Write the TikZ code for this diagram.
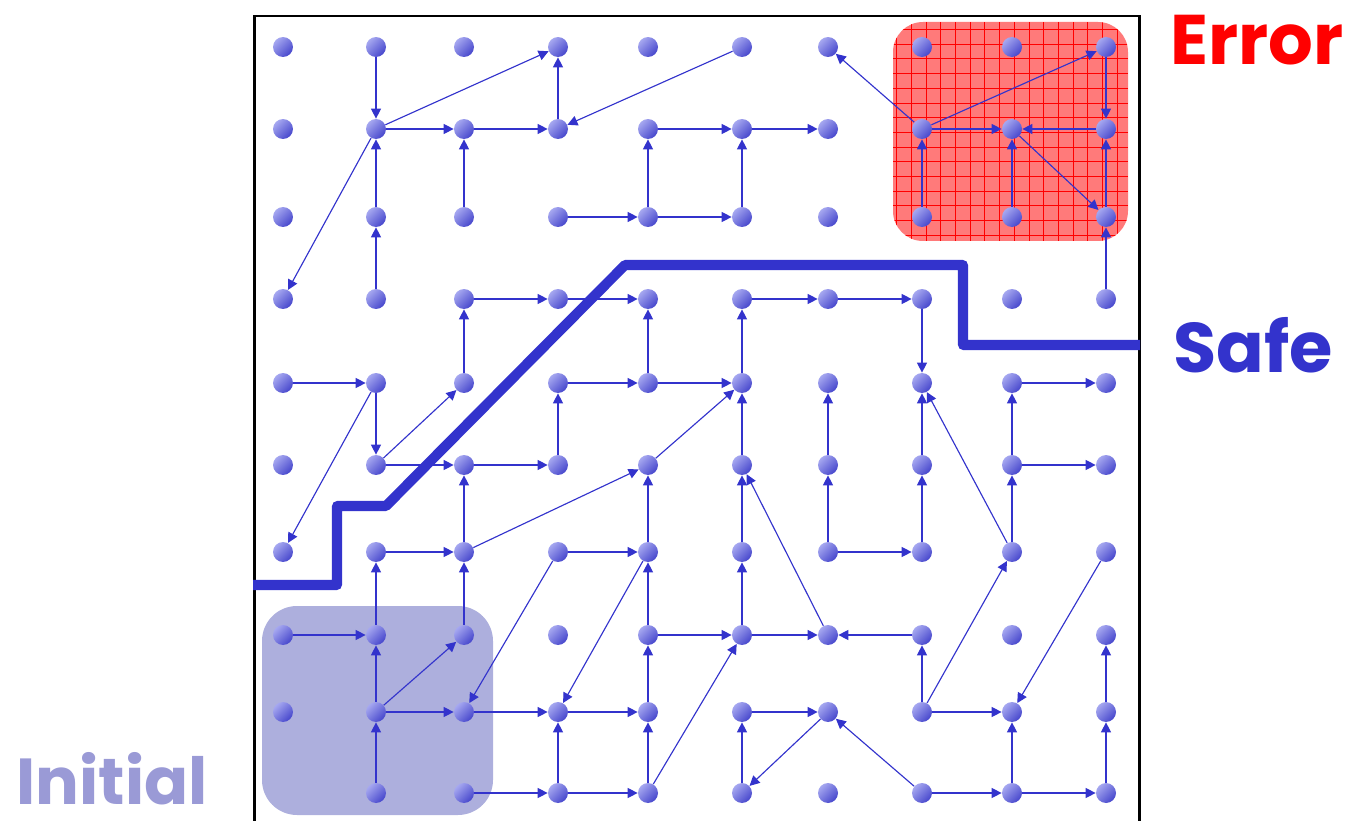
\documentclass[tikz,border=0pt]{standalone}
\usepackage{fontspec}
\newfontfamily\tagfont{Poppins}
\usetikzlibrary{arrows.meta}
\definecolor{cblue}{HTML}{3333CC}
\definecolor{cdotlight}{HTML}{A6A8F0}
\definecolor{cdotdark}{HTML}{4646CC}
\definecolor{cinit}{HTML}{ADAFDD}
\definecolor{cinittext}{HTML}{9A9AD6}
\definecolor{cerr}{HTML}{FF7A7A}
\definecolor{cerrtext}{HTML}{FF0000}
\tikzset{
  every picture/.style={x=0.02cm, y=-0.02cm},
  dot/.style={circle, minimum size=0.4cm, inner sep=0pt, top color=cdotlight, bottom color=cdotdark, shading angle=45},
  arrow/.style={-{Triangle[length=2mm, width=2mm]}, draw=cblue, line width=0.65pt},
  tag/.style={font=\tagfont\bfseries\fontsize{40}{48}\selectfont, inner sep=0pt},
  errzone/.style={fill=cerr, rounded corners=0.6cm, path picture={\draw[red, line width=0.35pt, step=0.294cm] (path picture bounding box.south west) grid (path picture bounding box.north east);}},
}

\begin{document}
\begin{tikzpicture}
  \useasboundingbox (0,0) rectangle (1347,821);
  % regions
  \fill[cinit, rounded corners=0.7cm] (262,606) rectangle (493,815);
  \path[errzone] (893,22) rectangle (1128,241);
  \draw[line width=1.7pt] (254.5,840) |- (1139,16) -- (1139,840);
  % boundary of the safe part
  \draw[cblue, line width=5.7pt, line join=round] (253,585) -- (337,585) -- (337,506) -- (386,506) -- (625,265) -- (963,265) -- (963,345) -- (1140,345);
  % states (no state in column 1, row 10)
  \foreach \c/\x in {1/283, 2/376, 3/464, 4/558, 5/648, 6/742, 7/828, 8/922, 9/1012, 10/1106}
    \foreach \r/\y in {1/47, 2/129, 3/217, 4/299, 5/383, 6/465, 7/552, 8/635, 9/712, 10/793} {
      \ifnum\c\r=110 \else \node[dot] (d\c-\r) at (\x,\y) {}; \fi
    }
  % transitions
  \foreach \a/\b in {2-1/2-2, 2-2/4-1, 2-2/3-2, 3-2/4-2, 4-2/4-1, 2-2/1-4, 2-3/2-2, 2-4/2-3, 3-3/3-2,
    6-1/4-2, 5-2/6-2, 6-2/7-2, 5-3/5-2, 6-3/6-2, 4-3/5-3, 5-3/6-3,
    8-2/7-1, 8-2/10-1, 8-2/9-2, 10-2/9-2, 10-1/10-2, 9-2/10-3, 8-3/8-2, 9-3/9-2, 10-3/10-2, 10-4/10-3}
    \draw[arrow] (d\a) -- (d\b);
  \foreach \a/\b in {3-4/4-4, 4-4/5-4, 6-4/7-4, 7-4/8-4, 3-5/3-4, 1-5/2-5, 2-5/2-6, 2-5/1-7, 2-6/3-5,
    2-6/3-6, 3-6/4-6, 4-6/4-5, 3-7/3-6, 2-7/3-7, 3-7/5-6, 4-5/5-5, 5-5/5-4, 5-5/6-5, 5-6/6-5,
    6-6/6-5, 6-5/6-4, 7-6/7-5, 7-7/7-6, 6-7/6-6, 7-8/6-6, 5-7/5-6, 4-7/5-7, 7-7/8-7,
    8-4/8-5, 8-6/8-5, 8-7/8-6, 9-7/8-5, 9-5/10-5, 9-6/9-5, 9-6/10-6, 9-7/9-6}
    \draw[arrow] (d\a) -- (d\b);
  \foreach \a/\b in {8-8/7-8, 8-9/8-8, 8-9/9-7, 8-9/9-9, 10-7/9-9, 8-10/7-9, 8-10/9-10, 9-10/10-10,
    9-10/9-9, 10-10/10-9, 10-9/10-8, 2-8/2-7, 3-8/3-7, 1-8/2-8, 2-9/2-8, 2-9/3-8, 2-9/3-9,
    2-10/2-9, 4-7/3-9, 3-9/4-9, 3-10/4-10, 4-10/4-9, 5-7/4-9, 5-8/5-7, 5-9/5-8, 5-8/6-8,
    6-8/6-7, 6-8/7-8, 5-10/6-8, 4-9/5-9, 4-10/5-10, 5-10/5-9, 6-9/7-9, 7-9/6-10, 6-10/6-9}
    \draw[arrow] (d\a) -- (d\b);
  % labels
  \node[tag, text=cerrtext] (error) at (1257,40) {Error};
  \node[tag, text=cblue] (safe) at (1253,345) {Safe};
  \node[tag, text=cinittext, font=\tagfont\bfseries\fontsize{37}{44}\selectfont] (initial) at (112,779) {Initial};
\end{tikzpicture}
\end{document}
